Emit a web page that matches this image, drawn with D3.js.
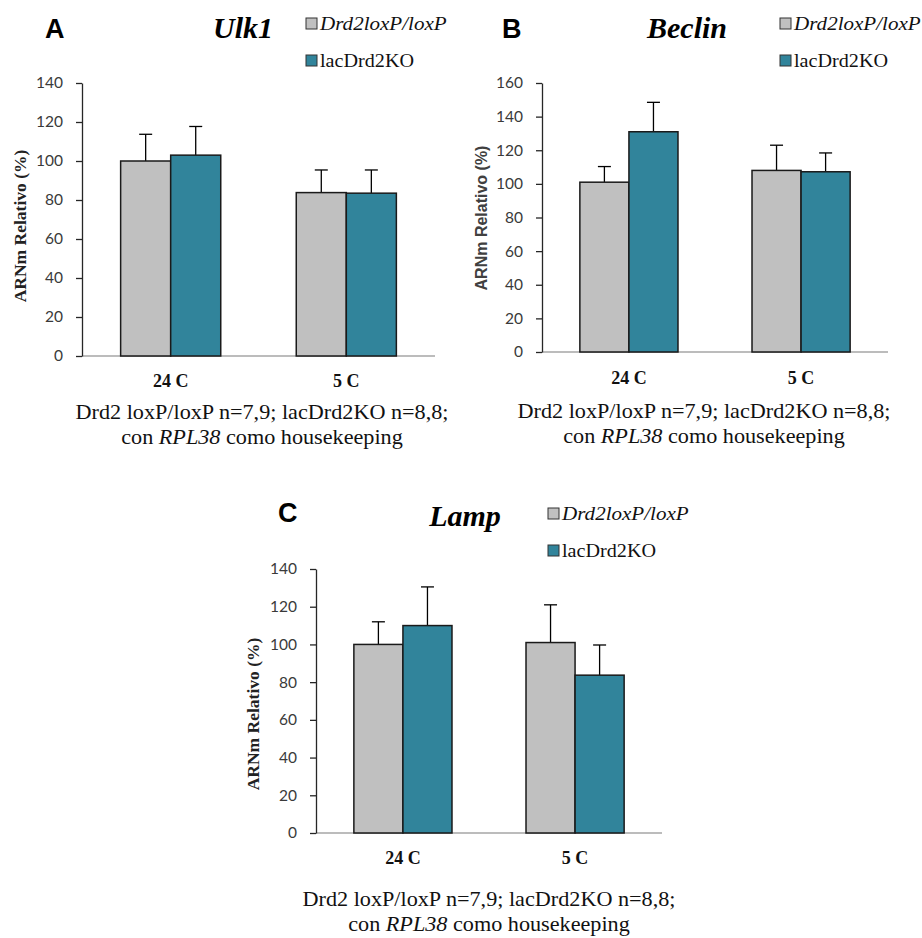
<!DOCTYPE html>
<html lang="es">
<head>
<meta charset="UTF-8">
<title>Ulk1, Beclin, Lamp</title>
<script src="https://d3js.org/d3.v7.min.js"></script>
<style>
    body { margin: 0; background: #fff; }
</style>
</head>
<body>
<svg width="922" height="938"></svg>
<script>
// groups and series
const groups = ["24 C", "5 C"];
const series = ["Drd2loxP/loxP", "lacDrd2KO"];

// Ulk1
const ulk1Control = [100, 83.8];
const ulk1KO = [103, 83.5];
const ulk1ControlErr = [13.7, 11.6];
const ulk1KOErr = [14.7, 11.9];

// Beclin
const beclinControl = [101, 108];
const beclinKO = [131, 107.2];
const beclinControlErr = [9.3, 15];
const beclinKOErr = [17.5, 11.2];

// Lamp
const lampControl = [100, 101];
const lampKO = [110, 83.7];
const lampControlErr = [12, 20];
const lampKOErr = [20.5, 16];

const ticksA = [0, 20, 40, 60, 80, 100, 120, 140];
const ticksB = [0, 20, 40, 60, 80, 100, 120, 140, 160];

const colors = ["#c0c0c0", "#31849b"];
const SERIF = "Liberation Serif";
const SANS = "Liberation Sans";

const svg = d3.select("svg");

function drawPanel(p) {
    const g = svg.append("g");

    const y = d3.scaleLinear().domain([0, p.ticks[p.ticks.length - 1]]).range([p.bottom, p.top]);
    const x0 = d3.scaleBand().domain(groups).range([p.left, p.right])
        .paddingInner(0.43).paddingOuter(0.22);
    const x1 = d3.scaleBand().domain(series).range([0, x0.bandwidth()]);

    // x axis (grey baseline)
    g.append("line")
        .attr("x1", p.left).attr("x2", p.right)
        .attr("y1", y(0)).attr("y2", y(0))
        .attr("stroke", "#a6a6a6").attr("stroke-width", 1.3);

    // y axis
    const ya = g.append("g")
        .attr("transform", `translate(${p.left},0)`)
        .call(d3.axisLeft(y).tickValues(p.ticks).tickSize(6).tickPadding(13).tickSizeOuter(0));
    ya.attr("font-family", "Lato").attr("font-size", 15.5);
    ya.select(".domain").attr("stroke", "#262626").attr("stroke-width", 1.3);
    ya.selectAll(".tick line").attr("stroke", "#262626").attr("stroke-width", 1.3);
    ya.selectAll(".tick text").attr("fill", "#3a3a3a");

    // rows of bars
    const rows = [];
    groups.forEach((grp, i) => {
        p.means.forEach((m, s) => {
            rows.push({group: grp, s: s, v: m[i], e: p.errs[s][i]});
        });
    });

    // error bars first, bars on top
    const cap = 6.5;
    rows.forEach(d => {
        const cx = x0(d.group) + x1(series[d.s]) + x1.bandwidth() / 2;
        g.append("line")
            .attr("x1", cx).attr("x2", cx)
            .attr("y1", y(d.v)).attr("y2", y(d.v + d.e))
            .attr("stroke", "#000").attr("stroke-width", 1.3);
        g.append("line")
            .attr("x1", cx - cap).attr("x2", cx + cap)
            .attr("y1", y(d.v + d.e)).attr("y2", y(d.v + d.e))
            .attr("stroke", "#000").attr("stroke-width", 1.3);
    });

    g.selectAll("rect.bar")
        .data(rows)
        .enter()
        .append("rect")
        .attr("class", "bar")
        .attr("x", d => x0(d.group) + x1(series[d.s]))
        .attr("y", d => y(d.v))
        .attr("width", x1.bandwidth())
        .attr("height", d => y(0) - y(d.v))
        .attr("fill", d => colors[d.s])
        .attr("stroke", "#1a1a1a")
        .attr("stroke-width", 1.5);

    // category labels
    g.selectAll("text.cat")
        .data(groups)
        .enter()
        .append("text")
        .attr("class", "cat")
        .attr("font-family", SERIF)
        .attr("x", d => x0(d) + x0.bandwidth() / 2)
        .attr("y", p.catY)
        .attr("text-anchor", "middle")
        .attr("font-size", 18)
        .attr("font-weight", "bold")
        .attr("fill", "#111")
        .text(d => d);

    // y label
    g.append("text")
        .attr("transform", `translate(${p.ylab[0]},${p.ylab[1]}) rotate(-90)`)
        .attr("text-anchor", "middle")
        .attr("font-family", p.ylabSans ? SANS : SERIF)
        .attr("font-size", p.ylabSans ? 16 : 17.5)
        .attr("font-weight", "bold")
        .attr("fill", p.ylabSans ? "#404040" : "#222")
        .text("ARNm Relativo (%)");

    // panel letter
    g.append("text")
        .attr("x", p.letter[0]).attr("y", p.letter[1])
        .attr("font-family", SANS)
        .attr("font-size", 27).attr("font-weight", "bold")
        .attr("fill", "#000")
        .text(p.letter[2]);

    // title
    g.append("text")
        .attr("font-family", SERIF)
        .attr("x", p.title[0]).attr("y", p.title[1])
        .attr("text-anchor", "middle")
        .attr("font-size", 30).attr("font-weight", "bold").attr("font-style", "italic")
        .attr("fill", "#000")
        .text(p.title[2]);

    // legend
    series.forEach((s, i) => {
        const ly = p.legend[1] + i * 37;
        g.append("rect")
            .attr("x", p.legend[0]).attr("y", ly)
            .attr("width", 11).attr("height", 11)
            .attr("fill", colors[i]).attr("stroke", "#333").attr("stroke-width", 1);
        g.append("text")
            .attr("font-family", SERIF)
            .attr("transform", `translate(${p.legend[0] + 14},${ly + 12}) scale(${i === 0 ? 1.17 : 1.12},1)`)
            .attr("font-size", 18)
            .attr("font-style", i === 0 ? "italic" : "normal")
            .attr("fill", "#111")
            .text(s);
    });

    // caption
    g.append("text")
        .attr("font-family", SERIF)
        .attr("transform", `translate(${p.caption[0]},${p.caption[1]}) scale(1.11,1)`)
        .attr("text-anchor", "middle")
        .attr("font-size", 20).attr("fill", "#111")
        .text("Drd2 loxP/loxP n=7,9; lacDrd2KO n=8,8;");
    const cap2 = g.append("text")
        .attr("font-family", SERIF)
        .attr("transform", `translate(${p.caption[0]},${p.caption[1] + 25}) scale(1.11,1)`)
        .attr("text-anchor", "middle")
        .attr("font-size", 20).attr("fill", "#111");
    cap2.append("tspan").text("con ");
    cap2.append("tspan").attr("font-style", "italic").text("RPL38");
    cap2.append("tspan").text(" como housekeeping");
}

drawPanel({
    left: 82, right: 435, top: 83, bottom: 356, ticks: ticksA,
    means: [ulk1Control, ulk1KO], errs: [ulk1ControlErr, ulk1KOErr],
    catY: 387, ylab: [26, 226], ylabSans: false,
    letter: [45, 38, "A"], title: [243, 38, "Ulk1"], legend: [306, 18],
    caption: [262, 419]
});

drawPanel({
    left: 542, right: 888, top: 83, bottom: 352, ticks: ticksB,
    means: [beclinControl, beclinKO], errs: [beclinControlErr, beclinKOErr],
    catY: 384, ylab: [487, 218], ylabSans: true,
    letter: [502, 38, "B"], title: [687, 38, "Beclin"], legend: [780, 18],
    caption: [704, 418]
});

drawPanel({
    left: 316, right: 662, top: 569, bottom: 833, ticks: ticksA,
    means: [lampControl, lampKO], errs: [lampControlErr, lampKOErr],
    catY: 864, ylab: [259, 714], ylabSans: false,
    letter: [278, 522, "C"], title: [465, 526, "Lamp"], legend: [548, 508],
    caption: [489, 906]
});
</script>
</body>
</html>
